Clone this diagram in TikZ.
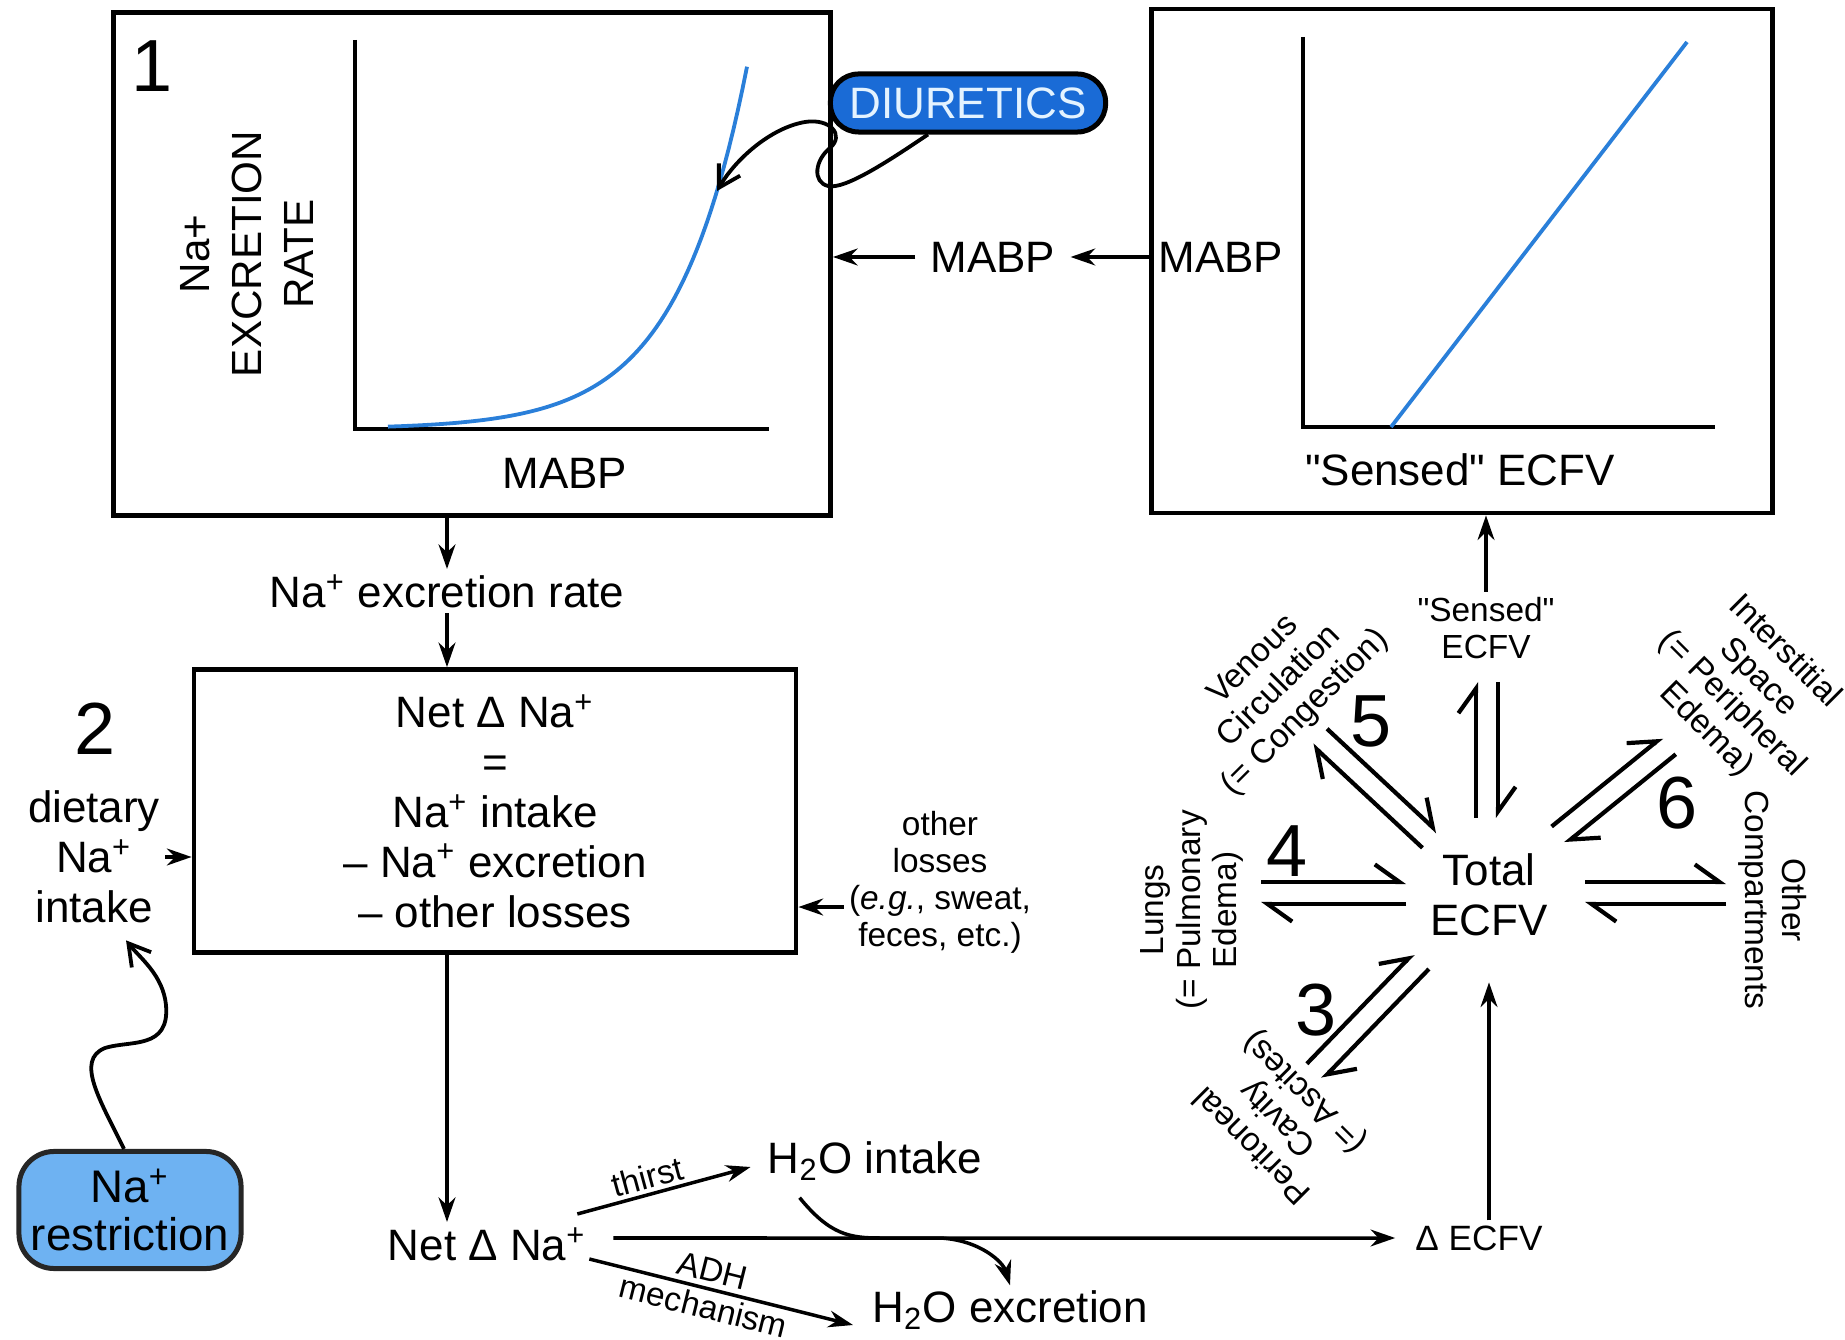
\documentclass[tikz,border=0pt]{standalone}
\usepackage{fontspec}
\setmainfont{Liberation Sans}
\usetikzlibrary{arrows.meta,positioning}

\definecolor{curveblue}{HTML}{2A7FD9}
\definecolor{diublue}{HTML}{1A6BD6}
\definecolor{diutext}{HTML}{E4F3FF}
\definecolor{restrictblue}{HTML}{6EB2F2}

\tikzset{
	frame/.style={draw=black, line width=0.45mm},
	axis/.style={line width=0.45mm},
	txt/.style={font=\fontsize{12.5}{14.2}\selectfont, align=center, inner sep=1pt},
	smalltxt/.style={font=\fontsize{9.5}{10.5}\selectfont, align=center, inner sep=1pt},
	bignum/.style={font=\fontsize{21}{24}\selectfont, inner sep=0pt},
	harp/.style={line width=0.42mm, -{Straight Barb[harpoon, length=7pt, width=10pt]}},
	wiggle/.style={line width=0.38mm, -{Straight Barb[length=6pt, width=7pt]}},
}

\begin{document}
\begin{tikzpicture}[x=0.01cm, y=0.01cm, line width=0.35mm, >={Stealth[length=7pt, width=4.8pt]}]
			\useasboundingbox (0,0) rectangle (1845,-1340);

			% panel 1: Na+ excretion against MABP
			\node[frame, minimum width=7.17cm, minimum height=5.03cm] (box1) at (472,-264) {};
			\node[bignum] (one) at (152,-66) {1};
			\node[txt, rotate=90, font=\fontsize{12}{14.8}\selectfont] (ylab) at (247,-254) {Na+\\EXCRETION\\RATE};
			\node[txt] (xlab1) at (565,-473) {MABP};
			\draw[axis] (355,-40) -- (355,-429) -- (769,-429);
			\draw[curveblue, line width=0.38mm] plot[domain=388:747, samples=80] (\x, {-429+238*exp(0.014*(\x-717))});
			\coordinate (hit) at (717,-191);

			\node[txt, fill=diublue, draw=black, line width=0.5mm, text=diutext, rounded corners=8pt,
			minimum width=2.75cm, minimum height=0.58cm] (diu) at (968,-103) {DIURETICS};
			\draw[wiggle] ([xshift=-0.4cm]diu.south) .. controls (890,-160) and (845,-190) .. (828,-186)
				.. controls (812,-182) and (815,-160) .. (830,-148)
				.. controls (845,-135) and (830,-118) .. (805,-122)
				.. controls (770,-128) and (735,-160) .. (hit);

			% panel 2: MABP against sensed ECFV
			\node[frame, minimum width=6.21cm, minimum height=5.04cm] (box2) at (1462,-261) {};
			\draw[axis] (1303,-37) -- (1303,-427) -- (1715,-427);
			\draw[curveblue, line width=0.38mm] (1391,-427) -- (1687,-42);
			\node[txt] (mabpin) at (1221,-257) {MABP};
			\node[txt] (xlab2) at (1460,-470) {\textquotedbl Sensed\textquotedbl\ ECFV};

			\node[txt] (mabp) at (993,-257) {MABP};
			\draw[->] (box2.west |- mabp) -- ([xshift=0.1cm]mabp.east);
			\draw[->] ([xshift=-0.1cm]mabp.west) -- (mabp.west -| box1.east);

			% sodium balance
			\node[txt] (rate) at (447,-591) {Na\textsuperscript{+} excretion rate};
			\draw[->] (box1.south -| rate) -- (rate.north);
			\node[frame, txt, minimum width=6.02cm, minimum height=2.83cm] (box3) at (495,-811)
				{Net Δ Na\textsuperscript{+}\\=\\Na\textsuperscript{+} intake\\– Na\textsuperscript{+} excretion\\– other losses};
			\draw[->] (rate.south) -- (rate.south |- box3.north);

			\node[bignum] (two) at (95,-729) {2};
			\node[txt] (diet) at (94,-857) {dietary\\Na\textsuperscript{+}\\intake};
			\draw[->] (diet.east) -- (diet.east -| box3.west);

			\node[smalltxt] (loss) at (940,-882) {other\\losses\\(\textit{e.g.}, sweat,\\feces, etc.)};
			\coordinate (lossin) at ([yshift=-0.25cm]loss.west);
			\draw[->] (lossin) -- (lossin -| box3.east);

			\node[txt, draw=black!85, line width=0.5mm, fill=restrictblue, rounded corners=10pt,
			font=\fontsize{13}{13.5}\selectfont,
			minimum width=2.22cm, minimum height=1.17cm] (restr) at (130,-1210) {Na\textsuperscript{+}\\restriction};
			\draw[wiggle] ([xshift=-0.06cm]restr.north) .. controls (100,-1100) and (75,-1060) .. (105,-1048)
				.. controls (130,-1040) and (170,-1050) .. (166,-1005)
				.. controls (163,-975) and (140,-958) .. ([xshift=0.32cm,yshift=-0.12cm]diet.south);

			% water
			\node[txt] (netna) at (487,-1244) {Net Δ Na\textsuperscript{+}};
			\draw[->] (box3.south -| rate) -- (rate |- netna.north);
			\node[txt] (h2oin) at (875,-1161) {H\textsubscript{2}O intake};
			\node[txt] (h2oex) at (1010,-1310) {H\textsubscript{2}O excretion};
			\node[smalltxt, font=\fontsize{10}{11}\selectfont] (decf) at (1479,-1238) {Δ ECFV};
			\draw[->] ([xshift=-0.14cm,yshift=0.3cm]netna.east) -- ([xshift=-0.12cm,yshift=-0.06cm]h2oin.west)
				node[smalltxt, sloped, above, pos=0.43] {thirst};
			\draw[->] ([xshift=0.22cm,yshift=0.06cm]netna.east) -- ([xshift=-0.15cm]decf.west);
			\draw[->] ([xshift=-0.02cm,yshift=-0.15cm]netna.east) -- ([xshift=-0.14cm,yshift=-0.15cm]h2oex.west)
				node[smalltxt, sloped, pos=0.45] {ADH\\mechanism};
			\draw[->] ([xshift=0.37cm,yshift=-0.12cm]h2oin.south west) .. controls (830,-1235) and (850,-1238) .. (880,-1238)
				-- (940,-1238) .. controls (980,-1240) and (1003,-1262) .. (h2oex.north);

			% ECFV compartments
			\node[txt] (total) at (1489,-895) {Total\\ECFV};
			\coordinate (hub) at (1487,-893);
			\draw[->] (decf.north -| total) -- ([yshift=-0.41cm]total.south);
			\node[smalltxt] (sensed) at (1486,-628) {\textquotedbl Sensed\textquotedbl\\ECFV};
			\draw[->] (sensed.north) -- (sensed.north |- box2.south);

			\foreach \ang/\rin/\rout in {90/75/211, 137/78/229, 180/81/226, 226/95/248, 39/92/234, 0/98/239}{
				\begin{scope}[shift={(hub)}, rotate=\ang]
					\draw[harp] (\rin,11) -- (\rout,11);
					\draw[harp] (\rout,-11) -- (\rin,-11);
				\end{scope}
			}

			\node[smalltxt, rotate=45] (venous) at (1280,-687) {Venous\\Circulation\\(= Congestion)};
			\node[smalltxt, rotate=90] (lungs) at (1192,-910) {Lungs\\(= Pulmonary\\Edema)};
			\node[smalltxt, rotate=135] (perit) at (1279,-1118) {Peritoneal\\Cavity\\(= Ascites)};
			\node[smalltxt, rotate=-45] (inter) at (1745,-691) {Interstitial\\Space\\(= Peripheral\\Edema)};
			\node[smalltxt, rotate=-90] (other) at (1773,-900) {Other\\Compartments};
			\node[bignum] (five) at (1371,-721) {5};
			\node[bignum] (four) at (1287,-851) {4};
			\node[bignum] (three) at (1316,-1010) {3};
			\node[bignum] (six) at (1677,-803) {6};
		\end{tikzpicture}
\end{document}
